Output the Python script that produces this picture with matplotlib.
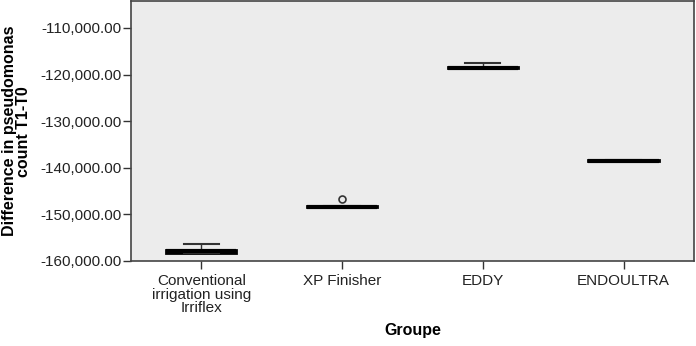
import matplotlib.pyplot as plt
from matplotlib.ticker import FuncFormatter

# groups and box statistics
groups = ['Conventional\nirrigation using\nIrriflex', 'XP Finisher', 'EDDY', 'ENDOULTRA']
whislo = [-158400, -148450, -118650, -138600]
q1 = [-158300, -148450, -118650, -138600]
med = [-157900, -148350, -118500, -138480]
q3 = [-157650, -148250, -118350, -138350]
whishi = [-156400, -148250, -117580, -138350]
fliers = [[], [-146700], [], []]

stats = []
for i in range(len(groups)):
    stats.append(dict(whislo=whislo[i], q1=q1[i], med=med[i], q3=q3[i],
                      whishi=whishi[i], fliers=fliers[i]))

plt.rcParams['font.family'] = ['Liberation Sans', 'DejaVu Sans']

fig = plt.figure(figsize=(6.96, 3.46), dpi=100)
ax = fig.add_axes([0.188, 0.246, 0.809, 0.750])
ax.set_facecolor('#ececec')

ax.bxp(stats, positions=range(len(groups)), widths=0.5, patch_artist=True,
       boxprops=dict(facecolor='black', edgecolor='black', linewidth=2),
       medianprops=dict(color='black', linewidth=3),
       whiskerprops=dict(color='#333333', linewidth=1),
       capprops=dict(color='#333333', linewidth=1.5),
       capwidths=0.25,
       flierprops=dict(marker='o', markerfacecolor='none', markeredgecolor='#333333',
                       markersize=5, markeredgewidth=1.2))

ax.set_xlim(-0.5, 3.5)
ax.set_ylim(-160000, -104300)
ax.set_yticks([-160000, -150000, -140000, -130000, -120000, -110000])
ax.yaxis.set_major_formatter(FuncFormatter(lambda v, p: f'{v:,.2f}'))
ax.set_xticks(range(len(groups)))
ax.set_xticklabels(groups, fontsize=11, linespacing=0.95, color='#222222')
ax.tick_params(axis='y', labelsize=11, labelcolor='#222222', pad=1)
ax.tick_params(direction='out', length=6, width=1, color='#333333')

for s in ax.spines.values():
    s.set_color('#444444')
    s.set_linewidth(1.2)

ax.set_ylabel('Difference in pseudomonas\ncount T1-T0', fontsize=11.5, fontweight='bold',
              linespacing=0.95, va='center')
ax.yaxis.set_label_coords(-0.203, 0.5)
ax.set_xlabel('Groupe', fontsize=11.5, fontweight='bold', labelpad=6)

plt.savefig('out.png', dpi=100)
